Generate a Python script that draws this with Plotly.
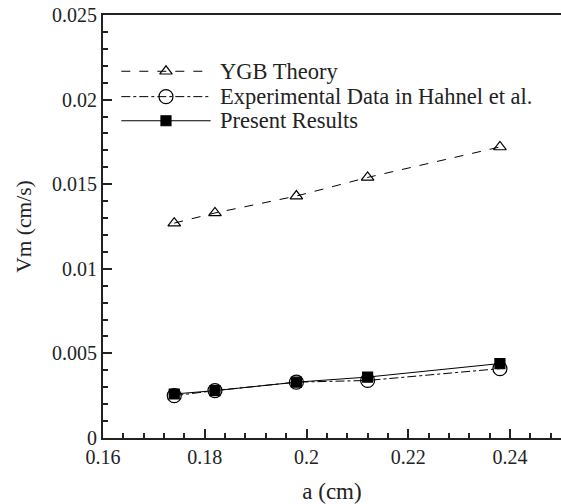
import plotly.graph_objects as go

a_vals = [0.174, 0.182, 0.198, 0.212, 0.238]
ygb = [0.0127, 0.0133, 0.0143, 0.0154, 0.0172]
exp_data = [0.0025, 0.0028, 0.0033, 0.0034, 0.0041]
present = [0.0026, 0.0028, 0.0033, 0.0036, 0.0044]

names = ["YGB Theory", "Experimental Data in Hahnel et al.", "Present Results"]
series = [ygb, exp_data, present]
dashes = ["dash", "dashdot", "solid"]
symbols = ["triangle-up-open", "circle-open", "square"]
msizes = [11, 14, 10]

FONT = "Liberation Serif, Times New Roman, serif"

fig = go.Figure()
for n, s, d, sym, ms in zip(names, series, dashes, symbols, msizes):
    fig.add_trace(go.Scatter(
        x=a_vals, y=s, mode="lines+markers", name=n, showlegend=False,
        line=dict(color="black", width=1, dash=d),
        marker=dict(symbol=sym, size=ms, color="black", line=dict(color="black", width=1.2)),
    ))

# manual legend on an overlay axis (0..1 coordinates over the plot area)
leg_y = [0.867, 0.807, 0.750]
for n, ly, d, sym, ms in zip(names, leg_y, dashes, symbols, msizes):
    fig.add_trace(go.Scatter(
        x=[0.04, 0.235], y=[ly, ly], mode="lines", xaxis="x2", yaxis="y2", showlegend=False,
        line=dict(color="black", width=1, dash=d), hoverinfo="skip",
    ))
    fig.add_trace(go.Scatter(
        x=[0.1375], y=[ly], mode="markers", xaxis="x2", yaxis="y2", showlegend=False,
        marker=dict(symbol=sym, size=ms, color="black", line=dict(color="black", width=1.2)),
        hoverinfo="skip",
    ))
    fig.add_annotation(x=0.25, y=ly, xref="x2", yref="y2", text=n, showarrow=False,
                       xanchor="left", yanchor="middle",
                       font=dict(family=FONT, size=22.5, color="#222"))

fig.update_layout(
    width=561, height=504,
    margin=dict(l=103, r=0, t=15, b=66),
    paper_bgcolor="white", plot_bgcolor="white",
    font=dict(family=FONT, size=20, color="#222"),
    xaxis=dict(
        range=[0.16, 0.25], tickvals=[0.16, 0.18, 0.2, 0.22, 0.24],
        ticktext=["0.16", "0.18", "0.2", "0.22", "0.24"],
        ticks="inside", ticklen=9, tickwidth=2, tickcolor="#222",
        minor=dict(dtick=0.004, tick0=0.16, ticks="inside", ticklen=5, tickwidth=1.5, tickcolor="#222"),
        showline=True, linewidth=2, linecolor="#222", mirror=True,
        showgrid=False, zeroline=False,
        title=dict(text="a (cm)", standoff=18, font=dict(family=FONT, size=23)),
    ),
    yaxis=dict(
        range=[0, 0.025], tickvals=[0, 0.005, 0.01, 0.015, 0.02, 0.025],
        ticktext=["0", "0.005", "0.01", "0.015", "0.02", "0.025"],
        ticks="inside", ticklen=9, tickwidth=2, tickcolor="#222",
        minor=dict(dtick=0.001, tick0=0, ticks="inside", ticklen=5, tickwidth=1.5, tickcolor="#222"),
        showline=True, linewidth=2, linecolor="#222",
        showgrid=False, zeroline=False,
        title=dict(text="Vm (cm/s)", standoff=14, font=dict(family=FONT, size=21.5)),
    ),
    xaxis2=dict(range=[0, 1], overlaying="x", visible=False, fixedrange=True),
    yaxis2=dict(range=[0, 1], overlaying="y", visible=False, fixedrange=True),
)

fig.write_html("out.html")
